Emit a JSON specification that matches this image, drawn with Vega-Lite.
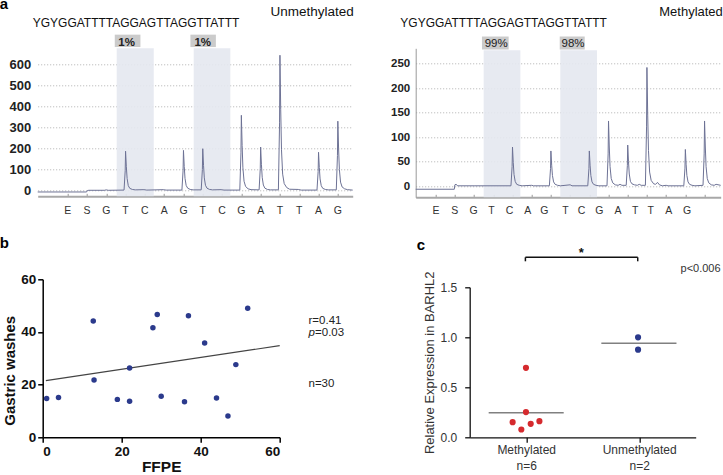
{
"$schema": "https://vega.github.io/schema/vega-lite/v6.json",
"background": "white",
"padding": {"left": -1.3, "top": -3.7, "right": 0, "bottom": 0},
"columns": 2,
"spacing": {"row": 82, "column": 63},
"bounds": "flush",
"config": {"view": {"stroke": null}, "font": "Liberation Sans"},
"datasets": {
"pyroL": [{"x":-0.554,"y":-8},{"x":1.98,"y":-8},{"x":2.02,"y":-1},{"x":2.1,"y":0},{"x":2.9,"y":0},{"x":3.0,"y":2},{"x":3.1,"y":0},
{"x":3.92,"y":1},{"x":3.98,"y":93},{"x":4.0,"y":186},{"x":4.04,"y":112},{"x":4.08,"y":56},{"x":4.14,"y":22},{"x":4.22,"y":9},{"x":4.35,"y":4},{"x":4.5,"y":2},
{"x":4.95,"y":3},{"x":5.1,"y":1},{"x":5.95,"y":3},{"x":6.1,"y":1},
{"x":6.92,"y":1},{"x":6.98,"y":95},{"x":7.0,"y":190},{"x":7.04,"y":114},{"x":7.08,"y":57},{"x":7.14,"y":23},{"x":7.22,"y":10},{"x":7.35,"y":4},{"x":7.5,"y":2},
{"x":7.92,"y":2},{"x":7.98,"y":99},{"x":8.0,"y":198},{"x":8.04,"y":119},{"x":8.08,"y":59},{"x":8.14,"y":24},{"x":8.22,"y":10},{"x":8.35,"y":4},{"x":8.5,"y":2},
{"x":8.95,"y":3},{"x":9.1,"y":1},
{"x":9.92,"y":1},{"x":9.98,"y":178},{"x":10.0,"y":357},{"x":10.04,"y":214},{"x":10.08,"y":107},{"x":10.14,"y":43},{"x":10.22,"y":18},{"x":10.35,"y":7},{"x":10.5,"y":3},
{"x":10.92,"y":2},{"x":10.98,"y":103},{"x":11.0,"y":206},{"x":11.04,"y":124},{"x":11.08,"y":62},{"x":11.14,"y":25},{"x":11.22,"y":10},{"x":11.35,"y":4},{"x":11.5,"y":2},
{"x":11.92,"y":2},{"x":11.98,"y":321},{"x":12.0,"y":643},{"x":12.04,"y":386},{"x":12.08,"y":193},{"x":12.14,"y":77},{"x":12.22,"y":32},{"x":12.35,"y":13},{"x":12.5,"y":5},
{"x":12.95,"y":4},{"x":13.1,"y":1},
{"x":13.92,"y":1},{"x":13.98,"y":90},{"x":14.0,"y":181},{"x":14.04,"y":109},{"x":14.08,"y":54},{"x":14.14,"y":22},{"x":14.22,"y":9},{"x":14.35,"y":4},{"x":14.5,"y":2},
{"x":14.92,"y":2},{"x":14.98,"y":165},{"x":15.0,"y":329},{"x":15.04,"y":197},{"x":15.08,"y":99},{"x":15.14,"y":39},{"x":15.22,"y":16},{"x":15.35,"y":7},{"x":15.5,"y":3},{"x":15.77,"y":1}],
"pyroR": [{"x":-0.04,"y":-6},{"x":1.97,"y":-6},{"x":2.0,"y":3},{"x":2.06,"y":4},{"x":2.15,"y":1},{"x":3.0,"y":1},
{"x":4.92,"y":1},{"x":4.98,"y":40},{"x":5.0,"y":80},{"x":5.04,"y":48},{"x":5.08,"y":24},{"x":5.14,"y":10},{"x":5.22,"y":4},{"x":5.35,"y":2},{"x":5.5,"y":1},
{"x":6.0,"y":2},{"x":6.1,"y":1},
{"x":6.92,"y":1},{"x":6.98,"y":36},{"x":7.0,"y":72},{"x":7.04,"y":43},{"x":7.08,"y":22},{"x":7.14,"y":9},{"x":7.22,"y":4},{"x":7.35,"y":2},{"x":7.5,"y":1},
{"x":8.0,"y":3},{"x":8.1,"y":1},
{"x":8.92,"y":1},{"x":8.98,"y":36},{"x":9.0,"y":72},{"x":9.04,"y":43},{"x":9.08,"y":22},{"x":9.14,"y":9},{"x":9.22,"y":4},{"x":9.35,"y":2},{"x":9.5,"y":1},
{"x":9.92,"y":1},{"x":9.98,"y":66},{"x":10.0,"y":133},{"x":10.04,"y":80},{"x":10.08,"y":40},{"x":10.14,"y":16},{"x":10.22,"y":7},{"x":10.35,"y":3},{"x":10.5,"y":2},{"x":10.6,"y":4},{"x":10.7,"y":2},
{"x":10.92,"y":2},{"x":10.98,"y":42},{"x":11.0,"y":84},{"x":11.04,"y":50},{"x":11.08,"y":25},{"x":11.14,"y":10},{"x":11.22,"y":5},{"x":11.35,"y":3},{"x":11.5,"y":2},{"x":11.6,"y":4},{"x":11.7,"y":2},
{"x":11.92,"y":2},{"x":11.98,"y":121},{"x":12.0,"y":242},{"x":12.04,"y":145},{"x":12.08,"y":73},{"x":12.14,"y":29},{"x":12.22,"y":12},{"x":12.35,"y":5},{"x":12.45,"y":4},{"x":12.55,"y":8},{"x":12.65,"y":3},{"x":12.8,"y":1},
{"x":13.0,"y":2},{"x":13.1,"y":1},
{"x":13.92,"y":1},{"x":13.98,"y":37},{"x":14.0,"y":75},{"x":14.04,"y":45},{"x":14.08,"y":22},{"x":14.14,"y":9},{"x":14.22,"y":4},{"x":14.35,"y":2},{"x":14.5,"y":1},
{"x":14.92,"y":2},{"x":14.98,"y":66},{"x":15.0,"y":133},{"x":15.04,"y":80},{"x":15.08,"y":40},{"x":15.14,"y":16},{"x":15.22,"y":7},{"x":15.35,"y":3},{"x":15.5,"y":2},{"x":15.6,"y":4},{"x":15.84,"y":2}],
"shadeL": [{"x":3.54,"x2":5.46,"y":-28.6,"y2":676},{"x":7.53,"x2":9.43,"y":-28.6,"y2":676}],
"boxL": [{"x":3.44,"x2":4.77,"y":682,"y2":741},{"x":7.36,"x2":8.68,"y":682,"y2":741}],
"pctL": [{"x":4.05,"y":688,"t":"1%"},{"x":8.0,"y":688,"t":"1%"}],
"lettersL": [{"x":1,"y":-111,"t":"E"},{"x":2,"y":-111,"t":"S"},{"x":3,"y":-111,"t":"G"},{"x":4,"y":-111,"t":"T"},{"x":5,"y":-111,"t":"C"},{"x":6,"y":-111,"t":"A"},{"x":7,"y":-111,"t":"G"},{"x":8,"y":-111,"t":"T"},{"x":9,"y":-111,"t":"C"},{"x":10,"y":-111,"t":"G"},{"x":11,"y":-111,"t":"A"},{"x":12,"y":-111,"t":"T"},{"x":13,"y":-111,"t":"T"},{"x":14,"y":-111,"t":"A"},{"x":15,"y":-111,"t":"G"}],
"seqL": [{"x":-0.81,"y":777,"t":"YGYGGATTTTAGGAGTTAGGTTATTT"}],
"nameL": [{"x":15.82,"y":830,"t":"Unmethylated"}],
"tagA": [{"x":-2.523,"y":865,"t":"a"}],
"shadeR": [{"x":3.5,"x2":5.41,"y":-22.4,"y2":277},{"x":7.49,"x2":9.4,"y":-22.4,"y2":277}],
"boxR": [{"x":3.41,"x2":4.8,"y":278.6,"y2":305},{"x":7.46,"x2":8.76,"y":278.6,"y2":305}],
"pctR": [{"x":4.15,"y":284,"t":"99%"},{"x":8.15,"y":284,"t":"98%"}],
"lettersR": [{"x":1.02,"y":-55.6,"t":"E"},{"x":1.99,"y":-55.6,"t":"S"},{"x":2.98,"y":-55.6,"t":"G"},{"x":3.9,"y":-55.6,"t":"T"},{"x":4.85,"y":-55.6,"t":"C"},{"x":5.8,"y":-55.6,"t":"A"},{"x":6.66,"y":-55.6,"t":"G"},{"x":7.76,"y":-55.6,"t":"T"},{"x":8.59,"y":-55.6,"t":"C"},{"x":9.52,"y":-55.6,"t":"G"},{"x":10.49,"y":-55.6,"t":"A"},{"x":11.39,"y":-55.6,"t":"T"},{"x":12.2,"y":-55.6,"t":"T"},{"x":13.14,"y":-55.6,"t":"A"},{"x":14.09,"y":-55.6,"t":"G"}],
"seqR": [{"x":-0.84,"y":324,"t":"YGYGGATTTTAGGAGTTAGGTTATTT"}],
"nameR": [{"x":15.95,"y":347,"t":"Methylated"}],
"scatter": [{"x":1.0,"y":14.7},{"x":4.0,"y":15.1},{"x":12.8,"y":44.2},{"x":13.0,"y":21.8},{"x":18.9,"y":14.4},{"x":22.0,"y":26.3},{"x":22.0,"y":13.7},{"x":27.9,"y":41.6},{"x":29.0,"y":46.6},{"x":30.0,"y":15.6},{"x":36.9,"y":46.2},{"x":35.9,"y":13.5},{"x":41.0,"y":35.8},{"x":44.0,"y":14.9},{"x":46.9,"y":8.1},{"x":48.9,"y":27.6},{"x":51.9,"y":49.0}],
"fit": [{"x":0.8,"y":21.5},{"x":60,"y":34.8}],
"statsB": [{"x":67.3,"y":42.9,"t":"r=0.41"},{"x":67.3,"y":19.1,"t":"n=30"}],
"pB": [{"x":67.3,"y":38.4,"t":"p"}],
"pB2": [{"x":68.95,"y":38.4,"t":"=0.03"}],
"tagB": [{"x":-10.89,"y":71.7,"t":"b"}],
"expr": [{"x":0.998,"y":0.695,"g":"Methylated"},{"x":0.998,"y":0.252,"g":"Methylated"},{"x":0.88,"y":0.151,"g":"Methylated"},{"x":1.04,"y":0.135,"g":"Methylated"},{"x":1.117,"y":0.161,"g":"Methylated"},{"x":0.957,"y":0.078,"g":"Methylated"},{"x":1.99,"y":1.0,"g":"Unmethylated"},{"x":1.99,"y":0.876,"g":"Unmethylated"}],
"medians": [{"x":0.668,"x2":1.332,"y":0.246},{"x":1.665,"x2":2.33,"y":0.94}],
"bracketH": [{"x":0.993,"x2":1.987,"y":1.8}],
"bracketV": [{"x":0.993,"y":1.8,"y2":1.76},{"x":1.987,"y":1.8,"y2":1.76}],
"star": [{"x":1.488,"y":1.8,"t":"*"}],
"pC": [{"x":2.72,"y":1.65,"t":"p<0.006"}],
"tagC": [{"x":0.031,"y":1.87,"t":"c"}]
},
"concat": [
{
"width": 315, "height": 148,
"encoding": {
"x": {"field": "x", "type": "quantitative", "scale": {"domain": [-0.554, 15.77], "nice": false, "zero": false},
 "axis": {"title": null, "values": [1,2,3,4,5,6,7,8,9,10,11,12,13,14,15], "labels": false, "grid": false, "tickSize": -3, "tickColor": "#999", "domainColor": "#a8a8a8", "domainWidth": 2}},
"y": {"field": "y", "type": "quantitative", "scale": {"domain": [-28.6, 676], "nice": false, "zero": false},
 "axis": {"title": null, "values": [0,100,200,300,400,500,600], "domain": false, "ticks": false, "grid": true, "gridDash": [1,2], "gridColor": "#b0b0b0", "labelFontWeight": "bold", "labelFontSize": 13, "labelColor": "#222", "labelPadding": 7}}
},
"layer": [
{"data": {"name": "shadeL"}, "mark": {"type": "rect", "color": "#e4e8ef", "opacity": 0.9}, "encoding": {"x2": {"field": "x2"}, "y2": {"field": "y2"}}},
{"data": {"name": "boxL"}, "mark": {"type": "rect", "color": "#cbcbcb"}, "encoding": {"x2": {"field": "x2"}, "y2": {"field": "y2"}}},
{"data": {"name": "pctL"}, "mark": {"type": "text", "fontSize": 11.5, "fontWeight": "bold", "color": "#222", "align": "center", "baseline": "alphabetic"}, "encoding": {"text": {"field": "t"}}},
{"data": {"name": "pyroL"}, "mark": {"type": "line", "color": "#6c7195", "strokeWidth": 1}, "encoding": {}},
{"data": {"name": "lettersL"}, "mark": {"type": "text", "fontSize": 10.5, "color": "#333", "align": "center", "baseline": "alphabetic"}, "encoding": {"text": {"field": "t"}}},
{"data": {"name": "seqL"}, "mark": {"type": "text", "fontSize": 12, "color": "#111", "align": "left", "baseline": "alphabetic"}, "encoding": {"text": {"field": "t"}}},
{"data": {"name": "nameL"}, "mark": {"type": "text", "fontSize": 13.5, "color": "#111", "align": "right", "baseline": "alphabetic"}, "encoding": {"text": {"field": "t"}}},
{"data": {"name": "tagA"}, "mark": {"type": "text", "fontSize": 15, "fontWeight": "bold", "color": "#000", "align": "left", "baseline": "alphabetic"}, "encoding": {"text": {"field": "t"}}}
]
},
{
"width": 305, "height": 149,
"encoding": {
"x": {"field": "x", "type": "quantitative", "scale": {"domain": [-0.04, 15.84], "nice": false, "zero": false},
 "axis": {"title": null, "values": [1,2,3,4,5,6,7,8,9,10,11,12,13,14,15], "labels": false, "grid": false, "tickSize": -3, "tickColor": "#999", "domainColor": "#a8a8a8", "domainWidth": 2}},
"y": {"field": "y", "type": "quantitative", "scale": {"domain": [-22.4, 281], "nice": false, "zero": false},
 "axis": {"title": null, "values": [0,50,100,150,200,250], "domain": true, "domainColor": "#999", "ticks": false, "grid": true, "gridDash": [1,2], "gridColor": "#b0b0b0", "labelFontWeight": "bold", "labelFontSize": 11.5, "labelColor": "#222", "labelPadding": 6}}
},
"layer": [
{"data": {"name": "shadeR"}, "mark": {"type": "rect", "color": "#e4e8ef", "opacity": 0.9}, "encoding": {"x2": {"field": "x2"}, "y2": {"field": "y2"}}},
{"data": {"name": "boxR"}, "mark": {"type": "rect", "color": "#cbcbcb"}, "encoding": {"x2": {"field": "x2"}, "y2": {"field": "y2"}}},
{"data": {"name": "pctR"}, "mark": {"type": "text", "fontSize": 11.5, "color": "#222", "align": "center", "baseline": "alphabetic"}, "encoding": {"text": {"field": "t"}}},
{"data": {"name": "pyroR"}, "mark": {"type": "line", "color": "#6c7195", "strokeWidth": 1}, "encoding": {}},
{"data": {"name": "lettersR"}, "mark": {"type": "text", "fontSize": 10.5, "color": "#333", "align": "center", "baseline": "alphabetic"}, "encoding": {"text": {"field": "t"}}},
{"data": {"name": "seqR"}, "mark": {"type": "text", "fontSize": 12, "color": "#111", "align": "left", "baseline": "alphabetic"}, "encoding": {"text": {"field": "t"}}},
{"data": {"name": "nameR"}, "mark": {"type": "text", "fontSize": 13, "color": "#111", "align": "right", "baseline": "alphabetic"}, "encoding": {"text": {"field": "t"}}}
]
},
{
"width": 242, "height": 158,
"encoding": {
"x": {"field": "x", "type": "quantitative", "scale": {"domain": [0, 60], "nice": false, "range": [5, 242]},
 "axis": {"title": "FFPE", "values": [0,20,40,60], "grid": false, "domainColor": "#000", "domainWidth": 1.5, "tickColor": "#000", "tickWidth": 1.5, "tickSize": 5, "labelFontWeight": "bold", "labelFontSize": 13.5, "labelColor": "#111", "labelPadding": 2, "titleFontSize": 15.5, "titleFontWeight": "bold", "titleColor": "#111", "titlePadding": 2}},
"y": {"field": "y", "type": "quantitative", "scale": {"domain": [0, 60], "nice": false},
 "axis": {"title": "Gastric washes", "offset": -5, "values": [0,20,40,60], "grid": false, "domainColor": "#000", "domainWidth": 1.5, "tickColor": "#000", "tickWidth": 1.5, "tickSize": 5, "labelFontWeight": "bold", "labelFontSize": 13.5, "labelColor": "#111", "labelPadding": 2, "titleFontSize": 15, "titleFontWeight": "bold", "titleColor": "#111", "titlePadding": 3, "titleY": 91}}
},
"layer": [
{"data": {"name": "fit"}, "mark": {"type": "line", "color": "#444", "strokeWidth": 1.2}, "encoding": {}},
{"data": {"name": "scatter"}, "mark": {"type": "circle", "color": "#2b3a8c", "size": 30, "opacity": 1}, "encoding": {}},
{"data": {"name": "statsB"}, "mark": {"type": "text", "fontSize": 11.5, "color": "#222", "align": "left", "baseline": "alphabetic"}, "encoding": {"text": {"field": "t"}}},
{"data": {"name": "pB"}, "mark": {"type": "text", "fontSize": 11.5, "fontStyle": "italic", "color": "#222", "align": "left", "baseline": "alphabetic"}, "encoding": {"text": {"field": "t"}}},
{"data": {"name": "pB2"}, "mark": {"type": "text", "fontSize": 11.5, "color": "#222", "align": "left", "baseline": "alphabetic"}, "encoding": {"text": {"field": "t"}}},
{"data": {"name": "tagB"}, "mark": {"type": "text", "fontSize": 15, "fontWeight": "bold", "color": "#000", "align": "left", "baseline": "alphabetic"}, "encoding": {"text": {"field": "t"}}}
]
},
{
"width": 280, "height": 158,
"encoding": {
"x": {"field": "x", "type": "quantitative", "scale": {"domain": [0.5, 2.5], "nice": false, "zero": false, "range": [54, 280]},
 "axis": {"title": null, "values": [1, 2], "labelExpr": "datum.value == 1 ? ['Methylated', 'n=6'] : ['Unmethylated', 'n=2']", "grid": false, "domainColor": "#111", "domainWidth": 1.3, "tickColor": "#111", "tickWidth": 1.3, "tickSize": 5, "labelFontSize": 12, "labelColor": "#333", "labelPadding": 2, "labelLineHeight": 16}},
"y": {"field": "y", "type": "quantitative", "scale": {"domain": [0, 1.5], "nice": false, "range": [158, 8]},
 "axis": {"title": "Relative Expression in BARHL2", "offset": -54, "values": [0, 0.5, 1, 1.5], "format": ".1f", "grid": false, "domainColor": "#111", "domainWidth": 1.3, "tickColor": "#111", "tickWidth": 1.3, "tickSize": 5, "labelFontSize": 12, "labelColor": "#333", "labelPadding": 8, "titleFontSize": 13, "titleFontWeight": "normal", "titleColor": "#333", "titlePadding": 4}}
},
"layer": [
{"data": {"name": "medians"}, "mark": {"type": "rule", "color": "#808080", "strokeWidth": 1.5}, "encoding": {"x2": {"field": "x2"}}},
{"data": {"name": "expr"}, "mark": {"type": "circle", "size": 38, "opacity": 1}, "encoding": {"color": {"field": "g", "type": "nominal", "scale": {"domain": ["Methylated", "Unmethylated"], "range": ["#d52a2e", "#2b3a8c"]}, "legend": null}}},
{"data": {"name": "bracketH"}, "mark": {"type": "rule", "color": "#111", "strokeWidth": 1.5}, "encoding": {"x2": {"field": "x2"}}},
{"data": {"name": "bracketV"}, "mark": {"type": "rule", "color": "#111", "strokeWidth": 1.5}, "encoding": {"y2": {"field": "y2"}}},
{"data": {"name": "star"}, "mark": {"type": "text", "fontSize": 13, "fontWeight": "bold", "color": "#111", "align": "center", "baseline": "alphabetic"}, "encoding": {"text": {"field": "t"}}},
{"data": {"name": "pC"}, "mark": {"type": "text", "fontSize": 11, "color": "#333", "align": "right", "baseline": "alphabetic"}, "encoding": {"text": {"field": "t"}}},
{"data": {"name": "tagC"}, "mark": {"type": "text", "fontSize": 15, "fontWeight": "bold", "color": "#000", "align": "left", "baseline": "alphabetic"}, "encoding": {"text": {"field": "t"}}}
]
}
]
}
